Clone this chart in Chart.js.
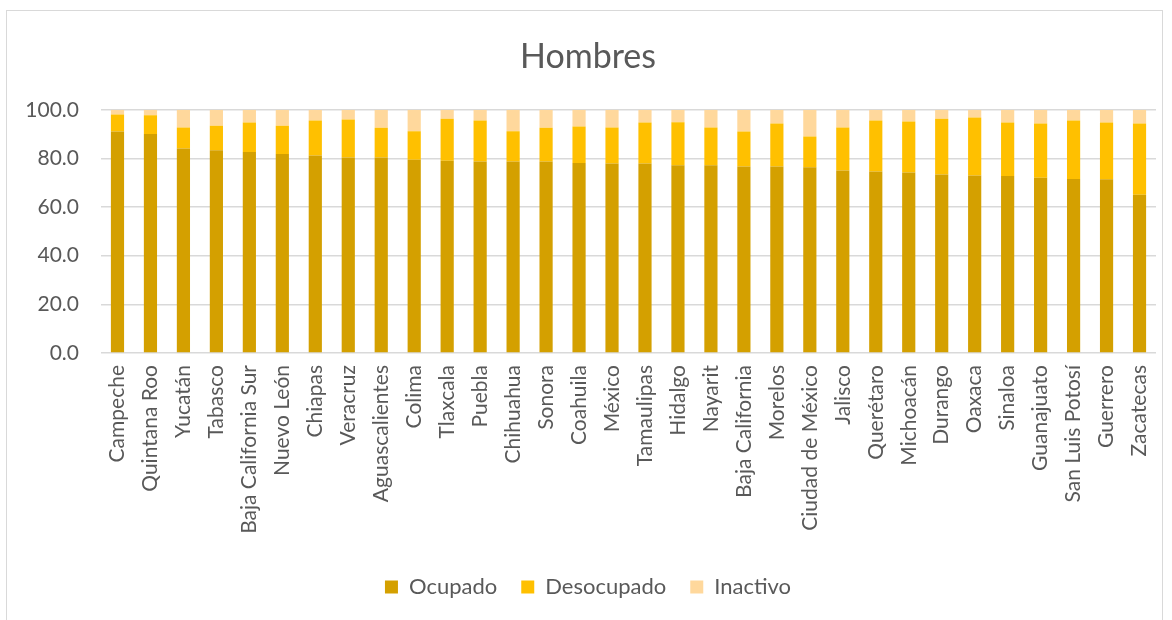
<!DOCTYPE html>
<html>
<head>
<meta charset="utf-8">
<script src="https://cdn.jsdelivr.net/npm/chart.js@4/dist/chart.umd.min.js"></script>
<style>
  html, body { margin: 0; padding: 0; background: #fff; }
  #wrap { position: relative; width: 1172px; height: 620px; }
  #frame { position: absolute; left: 6px; top: 10px; width: 1157px; height: 620px; border: 1px solid #d9d9d9; box-sizing: border-box; }
  canvas { position: absolute; left: 0; top: 0; }
</style>
</head>
<body>
<div id="wrap">
  <div id="frame"></div>
  <canvas id="chart" width="1172" height="620"></canvas>
</div>
<script>
const estados = ["Campeche", "Quintana Roo", "Yucatán", "Tabasco", "Baja California Sur", "Nuevo León",
  "Chiapas", "Veracruz", "Aguascalientes", "Colima", "Tlaxcala", "Puebla", "Chihuahua", "Sonora",
  "Coahuila", "México", "Tamaulipas", "Hidalgo", "Nayarit", "Baja California", "Morelos",
  "Ciudad de México", "Jalisco", "Querétaro", "Michoacán", "Durango", "Oaxaca", "Sinaloa",
  "Guanajuato", "San Luis Potosí", "Guerrero", "Zacatecas"];

const ocupado = [91.1, 90.0, 84.1, 83.4, 82.6, 81.8, 81.2, 80.4, 80.4, 79.5, 79.1, 78.7, 78.7, 78.7,
  78.1, 77.9, 77.9, 77.2, 77.2, 76.7, 76.7, 76.4, 75.0, 74.6, 74.2, 73.4, 73.0, 72.8, 72.1, 71.5, 71.4, 65.1];
const desocupado = [7.0, 7.8, 8.6, 10.0, 12.2, 11.6, 14.4, 15.6, 12.2, 11.7, 17.2, 16.9, 12.5, 13.9,
  15.0, 14.8, 16.9, 17.7, 15.5, 14.4, 17.7, 12.6, 17.7, 21.0, 21.0, 22.9, 23.8, 22.0, 22.3, 24.1, 23.4, 29.3];
const inactivo = [1.9, 2.2, 7.3, 6.6, 5.2, 6.6, 4.4, 4.0, 7.4, 8.8, 3.7, 4.4, 8.8, 7.4,
  6.9, 7.3, 5.2, 5.1, 7.3, 8.9, 5.6, 11.0, 7.3, 4.4, 4.8, 3.7, 3.2, 5.2, 5.6, 4.4, 5.2, 5.6];

const yTicks = [0, 20, 40, 60, 80, 100];

const FONT = "Lato, 'Open Sans', sans-serif";
const GREY = "#595959";

new Chart(document.getElementById("chart").getContext("2d"), {
  type: "bar",
  data: {
    labels: estados,
    datasets: [
      { label: "Ocupado", data: ocupado, backgroundColor: "#d4a000" },
      { label: "Desocupado", data: desocupado, backgroundColor: "#ffc000" },
      { label: "Inactivo", data: inactivo, backgroundColor: "#ffd89c" },
    ],
  },
  options: {
    responsive: false,
    animation: false,
    layout: { padding: { left: 20, right: 16, top: 34, bottom: 12 } },
    datasets: { bar: { barPercentage: 0.4, categoryPercentage: 1.0 } },
    plugins: {
      title: {
        display: true,
        text: "Hombres",
        color: GREY,
        font: { family: FONT, size: 34, weight: "normal" },
        padding: { top: 3, bottom: 32 },
      },
      legend: {
        position: "bottom",
        labels: {
          color: GREY,
          font: { family: FONT, size: 22 },
          boxWidth: 13,
          boxHeight: 13,
          padding: 24,
        },
      },
      tooltip: { enabled: false },
    },
    scales: {
      x: {
        stacked: true,
        grid: { display: false },
        border: { display: false },
        ticks: {
          color: GREY,
          font: { family: FONT, size: 21 },
          maxRotation: 90,
          minRotation: 90,
          autoSkip: false,
          padding: 4,
        },
        afterFit: (scale) => { scale.height = 199; },
      },
      y: {
        stacked: true,
        min: 0,
        max: 100,
        afterBuildTicks: (scale) => { scale.ticks = yTicks.map((v) => ({ value: v })); },
        grid: { color: "#d9d9d9", lineWidth: 1.5, drawTicks: false },
        border: { display: false },
        ticks: {
          color: GREY,
          font: { family: FONT, size: 21 },
          padding: 22,
          callback: (v) => v.toFixed(1),
        },
        afterFit: (scale) => { scale.width = 81; },
      },
    },
  },
});
</script>
</body>
</html>
